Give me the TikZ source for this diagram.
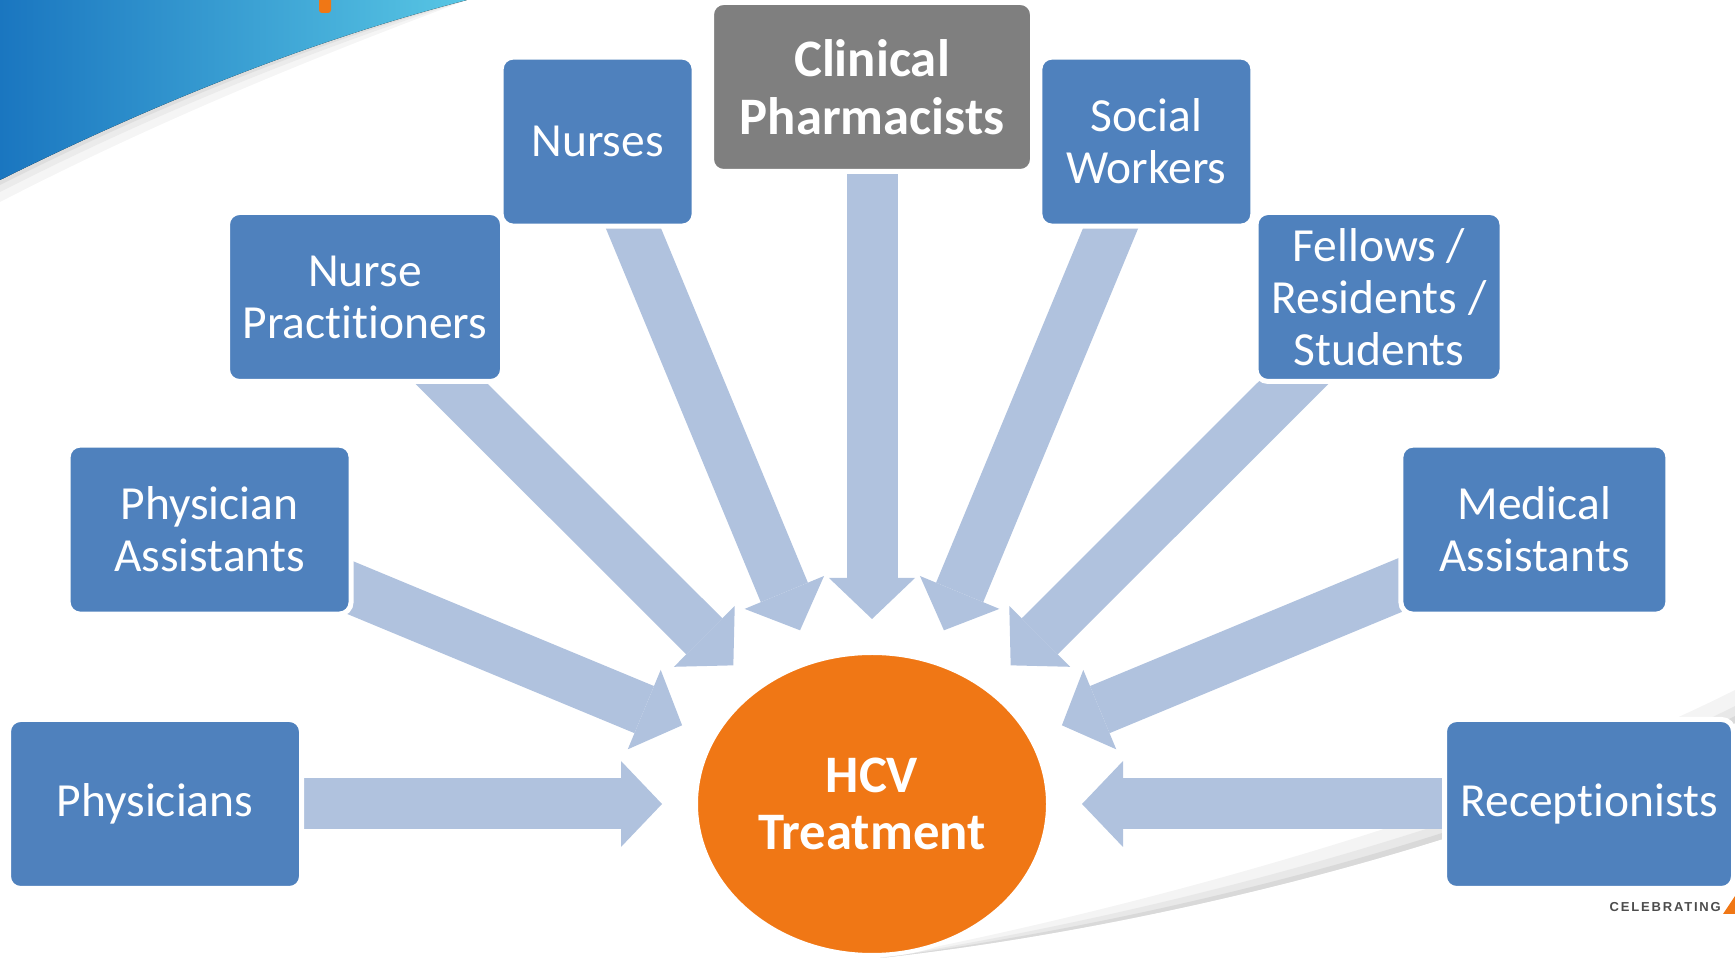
\documentclass[tikz,border=0pt]{standalone}
\usepackage{fontspec}
\setmainfont[Ligatures=NoCommon]{Carlito}
\newfontfamily\badgefont[LetterSpace=14]{Liberation Sans}
\usetikzlibrary{arrows.meta, calc, shapes.geometric, backgrounds}
\definecolor{rolebox}{HTML}{4F81BD}
\definecolor{pharmbox}{HTML}{7F7F7F}
\definecolor{feedarrow}{HTML}{B0C2DE}
\definecolor{hcvorange}{HTML}{F07715}
\definecolor{swooshdark}{HTML}{1A76C0}
\definecolor{swooshlight}{HTML}{58C6E4}
\tikzset{
  base/.style={align=center, inner sep=0pt, minimum height=169pt,
               rounded corners=12pt, text=white, draw=white, line width=5pt},
  role/.style={base, fill=rolebox, font=\fontsize{47.5}{52}\selectfont},
  pharm/.style={base, fill=pharmbox, font=\bfseries\fontsize{52.7}{57.5}\selectfont},
  centre/.style={ellipse, fill=hcvorange, draw=white, line width=4pt,
                 text=white, align=center, inner sep=0pt,
                 minimum width=352pt, minimum height=302pt,
                 font=\bfseries\fontsize{52.7}{57}\selectfont},
  feed/.style={draw=feedarrow, line width=51pt, shorten <=-40pt, shorten >=32pt,
               -{Triangle[length=41pt, width=86pt, line width=0pt]}},
}

\begin{document}
\begin{tikzpicture}[x=1pt, y=1pt]
\useasboundingbox (0,0) rectangle (1735,958);

%% ====================  BACKGROUND  ====================

\begin{scope}[on background layer]
% top-left swoosh with its shadow
\fill[gray!8] (0,958) -- (467,958) .. controls (312,900) and (155,836) .. (0,756) -- cycle;
\fill[gray!16] (0,958) -- (467,958) .. controls (312,908) and (155,845) .. (0,766) -- cycle;
\fill[gray!26] (0,958) -- (467,958) .. controls (312,914) and (155,851) .. (0,773) -- cycle;
\fill[left color=swooshdark, right color=swooshlight]
  (0,958) -- (467,958) .. controls (312,918) and (155,855) .. (0,778) -- cycle;
\fill[hcvorange, rounded corners=3pt] (319,965) rectangle (331,945);

% bottom-right curl
\fill[gray!9] (880,0) .. controls (1150,30) and (1500,115) .. (1735,235)
  -- (1735,268) .. controls (1500,150) and (1150,52) .. (880,0) -- cycle;
\fill[gray!18] (880,0) .. controls (1150,30) and (1500,115) .. (1735,235)
  -- (1735,252) .. controls (1500,133) and (1150,42) .. (880,0) -- cycle;
\fill[gray!30] (880,0) .. controls (1150,30) and (1500,115) .. (1735,235)
  -- (1735,242) .. controls (1500,122) and (1150,35) .. (880,0) -- cycle;
\end{scope}

%% ====================  CENTRE  ====================

\node[centre] (hcv) at (872,154) {HCV\\Treatment};

%% ====================  ROLES  ====================

\node[role, minimum width=293pt] (phys)    at ($(hcv)+(180:717)$)   {Physicians};
\node[role, minimum width=283pt] (pa)      at ($(hcv)+(157.5:717)$) {Physician\\Assistants};
\node[role, minimum width=275pt] (np)      at ($(hcv)+(135:717)$)   {Nurse\\Practitioners};
\node[role, minimum width=193pt] (nurses)  at ($(hcv)+(112.5:717)$) {Nurses};
\node[pharm, minimum width=321pt] (pharm)  at ($(hcv)+(90:717)$)    {Clinical\\Pharmacists};
\node[role, minimum width=213pt] (social)  at ($(hcv)+(67.5:717)$)  {Social\\Workers};
\node[role, minimum width=246pt] (fellows) at ($(hcv)+(45:717)$)    {Fellows /\\Residents /\\Students};
\node[role, minimum width=267pt] (ma)      at ($(hcv)+(22.5:717)$)  {Medical\\Assistants};
\node[role, minimum width=289pt] (recep)   at ($(hcv)+(0:717)$)     {Receptionists};

%% ====================  ARROWS  ====================

\begin{scope}[on background layer]
\draw[feed] (phys)    -- (hcv);
\draw[feed] (pa)      -- (hcv);
\draw[feed] (np)      -- (hcv);
\draw[feed] (nurses)  -- (hcv);
\draw[feed] (pharm)   -- (hcv);
\draw[feed] (social)  -- (hcv);
\draw[feed] (fellows) -- (hcv);
\draw[feed] (ma)      -- (hcv);
\draw[feed] (recep)   -- (hcv);
\end{scope}

%% ====================  BADGE  ====================

\node[font=\badgefont\bfseries\fontsize{13}{13}\selectfont, text=black!70,
      anchor=east, inner sep=0pt] (badge) at (1721,51) {CELEBRATING};
\fill[hcvorange] (1723,44) -- (1735,62) -- (1735,44) -- cycle;

\end{tikzpicture}
\end{document}
